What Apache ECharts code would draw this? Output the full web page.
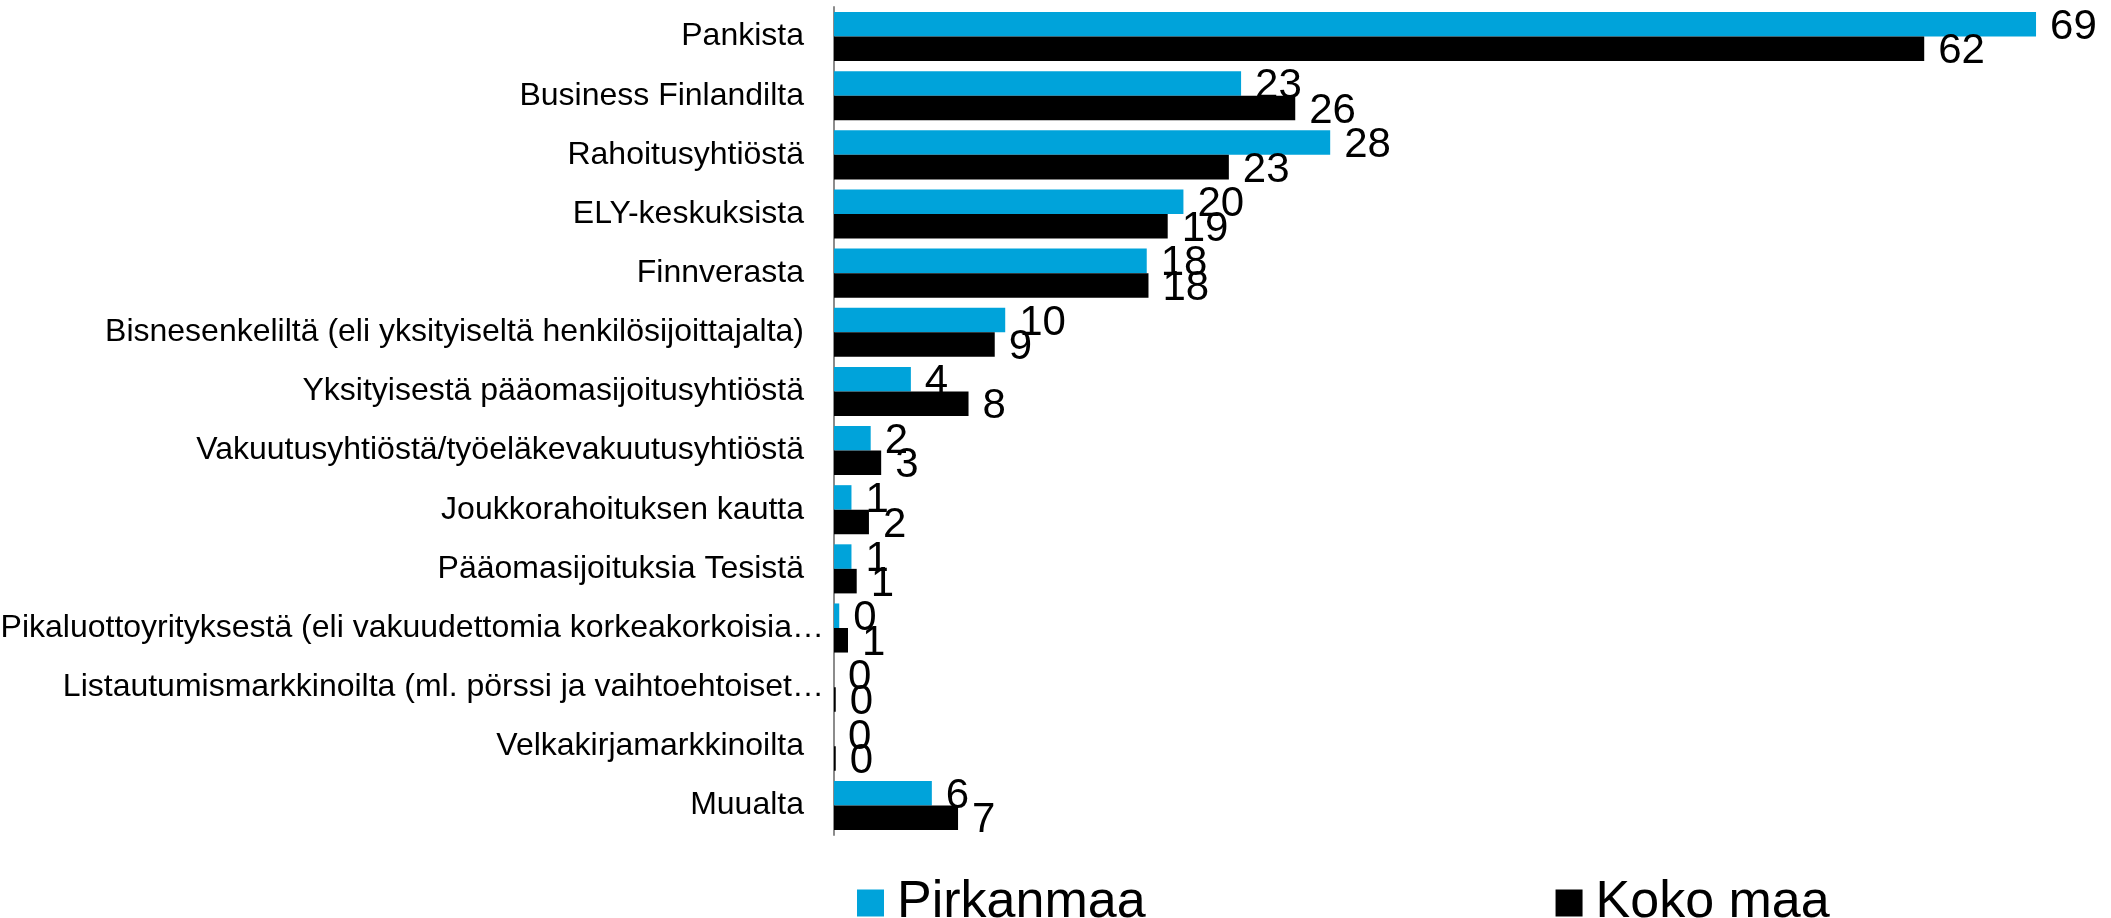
<!DOCTYPE html>
<html lang="fi" style="height: 100%">
    <head>
        <meta charset="utf-8" />
    </head>
    <body style="height: 100%; margin: 0">
        <div id="container" style="width: 2111px; height: 918px"></div>

        <script
            type="text/javascript"
            src="https://fastly.jsdelivr.net/npm/echarts@6/dist/echarts.min.js"
        ></script>

        <script type="text/javascript">
            var categories = [
                'Pankista',
                'Business Finlandilta',
                'Rahoitusyhtiöstä',
                'ELY-keskuksista',
                'Finnverasta',
                'Bisnesenkeliltä (eli yksityiseltä henkilösijoittajalta)',
                'Yksityisestä pääomasijoitusyhtiöstä',
                'Vakuutusyhtiöstä/työeläkevakuutusyhtiöstä',
                'Joukkorahoituksen kautta',
                'Pääomasijoituksia Tesistä',
                'Pikaluottoyrityksestä (eli vakuudettomia korkeakorkoisia…',
                'Listautumismarkkinoilta (ml. pörssi ja vaihtoehtoiset…',
                'Velkakirjamarkkinoilta',
                'Muualta'
            ];
            var pirkanmaa = [68.8, 23.3, 28.4, 20.0, 17.9, 9.8, 4.4, 2.1, 1.0, 1.0, 0.3, 0, 0, 5.6];
            var kokoMaa = [62.4, 26.4, 22.6, 19.1, 18.0, 9.2, 7.7, 2.7, 2.0, 1.3, 0.8, 0.1, 0.1, 7.1];

            var FONT = '"Liberation Sans", Arial, sans-serif';

            var dom = document.getElementById('container');
            var myChart = echarts.init(dom, null, { renderer: 'canvas' });

            var barLabel = {
                show: true,
                position: 'right',
                distance: 14,
                offset: [0, 3],
                color: '#000',
                fontFamily: FONT,
                fontSize: 42,
                formatter: function (p) {
                    return Math.round(p.value);
                }
            };

            var option = {
                animation: false,
                backgroundColor: '#fff',
                textStyle: { fontFamily: FONT },
                legend: {
                    left: 852,
                    top: 872,
                    itemWidth: 27,
                    itemHeight: 27,
                    itemGap: 410,
                    icon: 'rect',
                    textStyle: {
                        fontSize: 52,
                        color: '#000',
                        fontFamily: FONT,
                        padding: [0, 0, 0, 8]
                    },
                    data: ['Pirkanmaa', 'Koko maa']
                },
                grid: {
                    left: 834,
                    top: 7,
                    width: 1223,
                    height: 828,
                    containLabel: false,
                    outerBoundsMode: 'none'
                },
                xAxis: {
                    type: 'value',
                    min: 0,
                    max: 70,
                    show: false
                },
                yAxis: {
                    type: 'category',
                    inverse: true,
                    data: categories,
                    axisLine: { lineStyle: { color: '#8c8c8c', width: 2 } },
                    axisTick: { show: false },
                    axisLabel: {
                        margin: 30,
                        fontSize: 32,
                        color: '#000',
                        fontFamily: FONT,
                        // truncated labels sit closer to the axis, like in Excel
                        formatter: function (v) {
                            return v.slice(-1) === '…' ? '{cut|' + v + '}' : v;
                        },
                        rich: {
                            cut: {
                                fontSize: 32,
                                color: '#000',
                                fontFamily: FONT,
                                padding: [0, -20, 0, 0]
                            }
                        }
                    }
                },
                series: [
                    {
                        name: 'Pirkanmaa',
                        type: 'bar',
                        data: pirkanmaa,
                        barGap: '0%',
                        barCategoryGap: '17%',
                        itemStyle: { color: '#00a3da' },
                        label: barLabel
                    },
                    {
                        name: 'Koko maa',
                        type: 'bar',
                        data: kokoMaa,
                        barGap: '0%',
                        barCategoryGap: '17%',
                        itemStyle: { color: '#000000' },
                        label: barLabel
                    }
                ]
            };

            myChart.setOption(option);
            window.addEventListener('resize', myChart.resize);
        </script>
    </body>
</html>
